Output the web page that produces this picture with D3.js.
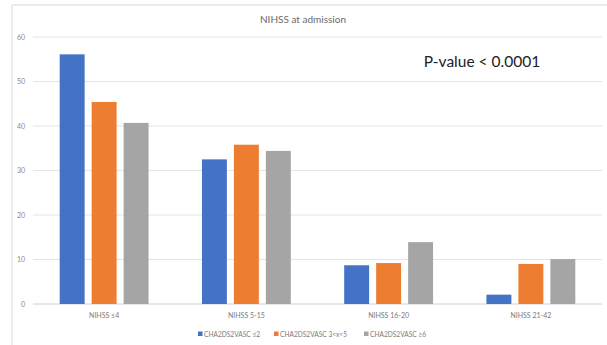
<!DOCTYPE html>
<html><head><meta charset="utf-8">
<script src="https://cdn.jsdelivr.net/npm/d3@7"></script>
<style>body{margin:0;background:#fff;}svg{display:block;font-family:Lato,"Open Sans",sans-serif;}</style>
</head><body>
<svg id="c" width="607" height="345"></svg>
<script>
const categories = ["NIHSS \u22644", "NIHSS 5-15", "NIHSS 16-20", "NIHSS 21-42"];
const seriesNames = ["CHA2DS2VASC \u22642", "CHA2DS2VASC 3<x<5", "CHA2DS2VASC \u22656"];
const seriesLow = [56.1, 32.5, 8.7, 2.1];
const seriesMid = [45.4, 35.8, 9.2, 9.0];
const seriesHigh = [40.7, 34.4, 13.9, 10.1];
const yTicks = [0, 10, 20, 30, 40, 50, 60];
const colors = ["#4472C4", "#ED7D31", "#A5A5A5"];
const seriesValues = [seriesLow, seriesMid, seriesHigh];

const svg = d3.select("#c");
// frame
svg.append("line").attr("x1",12).attr("x2",12).attr("y1",5).attr("y2",345).attr("stroke","#d9d9d9");
svg.append("line").attr("x1",12).attr("x2",607).attr("y1",5).attr("y2",5).attr("stroke","#d9d9d9");

const y = d3.scaleLinear().domain([0,60]).range([304,37]);
const x0 = d3.scaleBand().domain(categories).range([33,602]);
const x1 = d3.scaleBand().domain(seriesNames).range([0,x0.bandwidth()]).paddingInner(0.22).paddingOuter(0.835);

// grid
svg.append("g").selectAll("line").data(yTicks).join("line")
  .attr("x1",33).attr("x2",602).attr("y1",d=>y(d)).attr("y2",d=>y(d))
  .attr("stroke",d=>d===0?"#d0d0d0":"#e4e4e4").attr("stroke-width",1);
svg.append("g").selectAll("text").data(yTicks).join("text")
  .attr("x",25).attr("y",d=>y(d)+2.5).attr("text-anchor","end")
  .attr("font-size",7).attr("fill","#8a8a8a").text(d=>d);

// bars
const g = svg.append("g");
categories.forEach((c,ci)=>{
  seriesNames.forEach((s,si)=>{
    const v = seriesValues[si][ci];
    g.append("rect").attr("x",x0(c)+x1(s)).attr("width",x1.bandwidth())
      .attr("y",y(v)).attr("height",y(0)-y(v)).attr("fill",colors[si]);
  });
});

// category labels
svg.append("g").selectAll("text").data(categories).join("text")
  .attr("x",d=>x0(d)+x0.bandwidth()/2).attr("y",318).attr("text-anchor","middle")
  .attr("font-size",7).attr("fill","#7a7a7a").text(d=>d);

// title
svg.append("text").attr("x",303).attr("y",23).attr("text-anchor","middle")
  .attr("font-size",10).attr("fill","#6a6a6a").text("NIHSS at admission");

// p-value
svg.append("rect").attr("x",418).attr("y",50).attr("width",130).attr("height",24).attr("fill","#fff");
svg.append("text").attr("x",482).attr("y",67).attr("text-anchor","middle")
  .attr("font-size",15.5).attr("fill","#222").text("P-value < 0.0001");

// legend
const legX = [198, 274, 364];
const lg = svg.append("g");
seriesNames.forEach((s,i)=>{
  lg.append("rect").attr("x",legX[i]).attr("y",331.5).attr("width",4.5).attr("height",4.5).attr("fill",colors[i]);
  lg.append("text").attr("x",legX[i]+6).attr("y",336.5).attr("font-size",6.6).attr("fill","#7a7a7a").text(s);
});
</script>
</body></html>
